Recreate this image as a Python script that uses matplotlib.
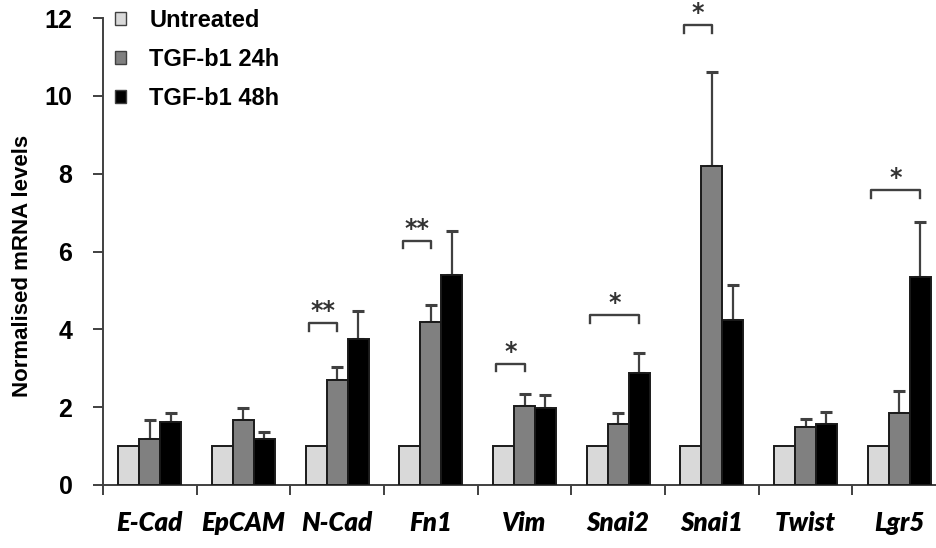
import numpy as np
import matplotlib
matplotlib.use('Agg')
import matplotlib.pyplot as plt
from matplotlib.patches import Patch

# data
genes = ['E-Cad', 'EpCAM', 'N-Cad', 'Fn1', 'Vim', 'Snai2', 'Snai1', 'Twist', 'Lgr5']
series = ['Untreated', 'TGF-b1 24h', 'TGF-b1 48h']
untreated = [1, 1, 1, 1, 1, 1, 1, 1, 1]
tgf24 = [1.17, 1.68, 2.69, 4.19, 2.03, 1.58, 8.19, 1.48, 1.84]
tgf24_err = [0.51, 0.29, 0.34, 0.43, 0.32, 0.27, 2.43, 0.21, 0.58]
tgf48 = [1.62, 1.19, 3.74, 5.40, 1.99, 2.87, 4.23, 1.58, 5.34]
tgf48_err = [0.23, 0.18, 0.72, 1.12, 0.32, 0.52, 0.90, 0.30, 1.43]

# significance brackets: gene index, compared series, bracket height, label
sig_gene = [2, 3, 4, 5, 6, 8]
sig_to = [1, 1, 1, 2, 1, 2]
sig_y = [4.16, 6.28, 3.12, 4.36, 11.82, 7.58]
sig_label = ['**', '**', '*', '*', '*', '*']

COLORS = ['#d9d9d9', '#808080', '#000000']
EDGE = '#1a1a1a'
ERRC = '#404040'
W = 0.224

plt.rcParams['font.family'] = ['Liberation Sans', 'DejaVu Sans']
plt.rcParams['font.weight'] = 'bold'

fig = plt.figure(figsize=(9.36, 5.48), dpi=100)
ax = fig.add_axes([103/936., 63/548., (946-103)/936., (485-18)/548.])

x = np.arange(len(genes))
vals = [untreated, tgf24, tgf48]
errs = [None, tgf24_err, tgf48_err]
offs = [-W, 0, W]
for i in range(3):
    ax.bar(x + offs[i], vals[i], W, color=COLORS[i], edgecolor=EDGE,
           linewidth=1.4, zorder=3)
    if errs[i] is not None:
        ax.errorbar(x + offs[i], vals[i], yerr=[np.zeros(len(x)), errs[i]],
                    fmt='none', ecolor=ERRC, elinewidth=1.6, capsize=4,
                    capthick=2.2, zorder=2)

# brackets
for g, s, y, lab in zip(sig_gene, sig_to, sig_y, sig_label):
    x0 = g - 0.30
    x1 = g + offs[s]
    ax.plot([x0, x0, x1, x1], [y - 0.2, y, y, y - 0.2], color=ERRC,
            lw=1.7, clip_on=False, zorder=4)
    ax.text((x0 + x1) / 2, y + 0.0, lab, ha='center', va='bottom',
            fontsize=17, color='#333333', fontweight='bold',
            family='DejaVu Sans', clip_on=False)

ax.set_xlim(-0.5, 8.5)
ax.set_ylim(0, 12)
ax.set_yticks(np.arange(0, 13, 2))
ax.set_yticklabels([str(v) for v in range(0, 13, 2)], fontsize=18,
                   fontweight='bold')
ax.tick_params(axis='y', length=7, width=1.4, color='#404040', pad=15)

ax.set_xticks(x)
ax.set_xticklabels(genes, fontsize=18.5, family='Lato', style='italic',
                   fontweight='heavy')
ax.tick_params(axis='x', which='major', length=0, pad=19)
ax.set_xticks(np.arange(-0.5, 9, 1), minor=True)
ax.tick_params(axis='x', which='minor', length=7, width=1.4, color='#404040')

for sp in ['top', 'right']:
    ax.spines[sp].set_visible(False)
for sp in ['left', 'bottom']:
    ax.spines[sp].set_color('#404040')
    ax.spines[sp].set_linewidth(1.4)

ax.set_ylabel('Normalised mRNA levels', fontsize=16, fontweight='bold')
ax.yaxis.set_label_coords(-0.083, 0.47)

handles = [Patch(facecolor=COLORS[i], edgecolor='#404040', linewidth=1.0)
           for i in range(3)]
fig.legend(handles, series, loc='upper left',
           bbox_to_anchor=(115/936., 1 - 9/548.), frameon=False,
           prop={'size': 17, 'weight': 'bold'}, handlelength=0.45,
           handleheight=0.45, handletextpad=1.0, labelspacing=0.68,
           borderpad=0, borderaxespad=0)

fig.savefig('out.png', dpi=100)
